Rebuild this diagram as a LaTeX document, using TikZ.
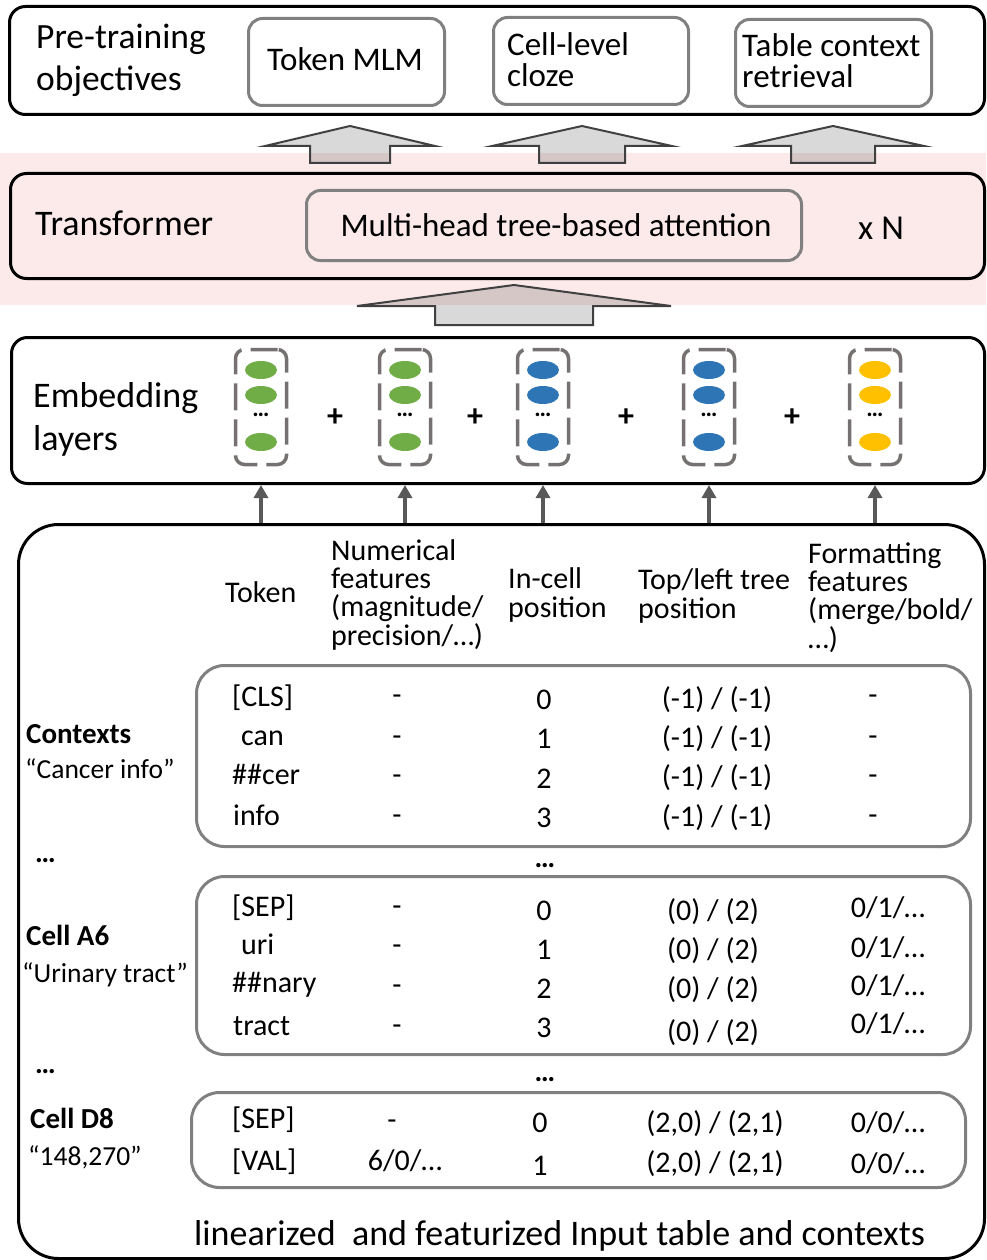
\documentclass[tikz,border=0pt]{standalone}
\usepackage{fontspec}
\setmainfont{Carlito}
\usetikzlibrary{arrows.meta,shapes.geometric}

\definecolor{bandpink}{RGB}{252,234,234}
\definecolor{framegray}{RGB}{128,128,128}
\definecolor{dashgray}{RGB}{118,113,113}
\definecolor{feedgray}{RGB}{89,89,89}
\definecolor{arrowedge}{RGB}{64,64,64}
\definecolor{embgreen}{RGB}{112,173,71}
\definecolor{embblue}{RGB}{46,117,182}
\definecolor{embgold}{RGB}{255,192,0}

\tikzset{
  frame/.style={draw=black, line width=3pt, rounded corners=16pt, inner sep=0pt, anchor=north west},
  objbox/.style={draw=framegray, line width=3pt, rounded corners=14pt, inner sep=0pt, anchor=north west},
  rowbox/.style={draw=framegray, line width=3pt, rounded corners=28pt, inner sep=0pt, anchor=north west},
  fatarrow/.style={draw=arrowedge, line width=2pt, fill=black, fill opacity=0.15, line join=miter},
  vecbox/.style={draw=dashgray, line width=3.5pt, rounded corners=9pt, dash pattern=on 27pt off 9pt,
    minimum width=51pt, minimum height=115pt, inner sep=0pt},
  emb/.style={ellipse, fill=#1, minimum width=32pt, minimum height=18pt, inner sep=0pt},
  feed/.style={draw=feedgray, line width=4pt, -{Triangle[length=13pt,width=14pt]}},
  biglabel/.style={font=\fontsize{36}{42}\selectfont, inner sep=0pt, align=left, anchor=base west},
  boxlabel/.style={font=\fontsize{33}{31}\selectfont, inner sep=0pt, align=left, anchor=base west},
  cell/.style={font=\fontsize{30}{28.3}\selectfont, inner sep=0pt, anchor=base},
  head/.style={cell, align=left, anchor=base west},
  rowlabel/.style={cell, font=\fontsize{29}{28.3}\selectfont\bfseries, anchor=base west},
  rowquote/.style={cell, font=\fontsize{27.5}{28}\selectfont, anchor=base west},
  gapdots/.style={cell, font=\fontsize{29}{28.3}\selectfont\bfseries},
}

\begin{document}
\begin{tikzpicture}[x=1pt, y=-1pt]
\useasboundingbox (0,0) rectangle (986,1260);

% pink band behind the transformer layer
\fill[bandpink] (0,153) rectangle (986,305);

% pre-training objectives (multi-line labels are placed by their last baseline)
\node[frame, minimum width=975pt, minimum height=108pt] (objframe) at (8,5) {};
\node[biglabel, font=\fontsize{35.5}{42.5}\selectfont] (objlabel) at (36,91) {Pre-training\\objectives};
\node[objbox, minimum width=196pt, minimum height=87pt] (mlm) at (247,17) {};
\node[boxlabel, anchor=base] (mlmtext) at (345,71) {Token MLM};
\node[objbox, minimum width=195pt, minimum height=87pt] (cloze) at (492,16) {};
\node[boxlabel] (clozetext) at (507,87) {Cell-level\\cloze};
\node[objbox, minimum width=196pt, minimum height=87pt] (retr) at (734,18) {};
\node[boxlabel] (retrtext) at (742,88) {Table context\\retrieval};

% transformer
\node[frame, minimum width=974pt, minimum height=105pt] (trframe) at (9,172) {};
\node[biglabel] (trlabel) at (35,235) {Transformer};
\node[objbox, minimum width=495pt, minimum height=70pt] (attn) at (305,189) {};
\node[boxlabel, anchor=base] (attntext) at (556,236) {Multi-head tree-based attention};
\node[boxlabel, font=\fontsize{35}{35}\selectfont] (times) at (858,239) {x N};

% block arrows between the layers
\foreach \cx/\h/\s in {350/85/40, 582/90/43, 833/91/42}
  \draw[fatarrow] ({\cx-\s},163) -- ({\cx-\s},146) -- ({\cx-\h},146) -- (\cx,126)
    -- ({\cx+\h},146) -- ({\cx+\s},146) -- ({\cx+\s},163) -- cycle;
\draw[fatarrow] (435,325) -- (435,306) -- (357,306) -- (514,285) -- (671,306)
  -- (593,306) -- (593,325) -- cycle;

% embedding layers
\node[frame, minimum width=973pt, minimum height=146pt] (embframe) at (10,336) {};
\node[biglabel, font=\fontsize{36}{43}\selectfont] (emblabel) at (33,450) {Embedding\\layers};
\foreach \i/\x/\c in {1/261/embgreen, 2/405/embgreen, 3/543/embblue, 4/709/embblue, 5/875/embgold}{
  \node[vecbox] (vec\i) at (\x,407) {};
  \node[emb=\c] (vec\i-a) at (\x,370) {};
  \node[emb=\c] (vec\i-b) at (\x,395) {};
  \node[font=\fontsize{24}{24}\selectfont\bfseries, inner sep=0pt] (vec\i-c) at (\x,415) {…};
  \node[emb=\c] (vec\i-d) at (\x,442) {};
}
\foreach \i/\x in {1/335, 2/475, 3/626, 4/792}
  \node[font=\fontsize{32}{32}\selectfont\bfseries, inner sep=0pt] (plus\i) at (\x,418) {+};

% linearized input
\node[frame, rounded corners=40pt, minimum width=966pt, minimum height=734pt] (inframe) at (17,523) {};
\foreach \i in {1,...,5}
  \draw[feed] (vec\i |- inframe.north) -- (vec\i |- embframe.south);

\node[head] (h-tok) at (225,602) {Token};
\node[head] (h-num) at (331,645) {Numerical\\features\\(magnitude/\\precision/…)};
\node[head] (h-pos) at (508,617) {In-cell\\position};
\node[head] (h-tree) at (638,618) {Top/left tree\\position};
\node[head] (h-fmt) at (808,648) {Formatting\\features\\(merge/bold/\\…)};

% context tokens
\node[rowbox, minimum width=774pt, minimum height=181pt] (ctxbox) at (195,664) {};
\node[rowlabel] (ctxlabel) at (26,743) {Contexts};
\node[rowquote] (ctxquote) at (25,778) {“Cancer info”};
\foreach \tx/\t/\y [count=\i] in {232/[CLS]/706, 241/can/745, 232/\#\#cer/784, 233/info/825}
  \node[cell, anchor=base west] (ctx-tok\i) at (\tx,\y) {\t};
\foreach \y [count=\i] in {704,745,784,824}{
  \node[cell] (ctx-num\i) at (397,\y) {-};
  \node[cell] (ctx-fmt\i) at (873,\y) {-};
}
\foreach \v/\y [count=\i] in {0/709, 1/748, 2/788, 3/827}
  \node[cell] (ctx-pos\i) at (544,\y) {\v};
\foreach \y [count=\i] in {708,747,786,826}
  \node[cell] (ctx-tree\i) at (717,\y) {(-1) / (-1)};

\node[gapdots, anchor=base west] (gapl1) at (35,862) {…};
\node[gapdots] (gapc1) at (545,867) {…};

% cell A6
\node[rowbox, minimum width=774pt, minimum height=178pt] (a6box) at (195,875) {};
\node[rowlabel] (a6label) at (26,945) {Cell A6};
\node[rowquote] (a6quote) at (22,982) {“Urinary tract”};
\foreach \tx/\t/\y [count=\i] in {232/[SEP]/916, 241/uri/954, 232/\#\#nary/992, 233/tract/1035}
  \node[cell, anchor=base west] (a6-tok\i) at (\tx,\y) {\t};
\foreach \y [count=\i] in {915,954,994,1034}
  \node[cell] (a6-num\i) at (397,\y) {-};
\foreach \v/\y [count=\i] in {0/920, 1/959, 2/998, 3/1037}
  \node[cell] (a6-pos\i) at (544,\y) {\v};
\foreach \y [count=\i] in {920,959,998,1041}
  \node[cell] (a6-tree\i) at (713,\y) {(0) / (2)};
\foreach \y [count=\i] in {917,957,995,1033}
  \node[cell] (a6-fmt\i) at (888,\y) {0/1/…};

\node[gapdots, anchor=base west] (gapl2) at (35,1073) {…};
\node[gapdots] (gapc2) at (545,1081) {…};

% cell D8
\node[rowbox, minimum width=774pt, minimum height=95pt] (d8box) at (190,1091) {};
\node[rowlabel] (d8label) at (30,1128) {Cell D8};
\node[rowquote] (d8quote) at (28,1165) {“148,270”};
\node[cell, anchor=base west] (d8-tok1) at (232,1128) {[SEP]};
\node[cell, anchor=base west] (d8-tok2) at (232,1170) {[VAL]};
\node[cell] (d8-num1) at (392,1129) {-};
\node[cell] (d8-num2) at (405,1170) {6/0/…};
\node[cell] (d8-pos1) at (540,1132) {0};
\node[cell] (d8-pos2) at (540,1175) {1};
\node[cell] (d8-tree1) at (715,1132) {(2,0) / (2,1)};
\node[cell] (d8-tree2) at (715,1172) {(2,0) / (2,1)};
\node[cell] (d8-fmt1) at (888,1132) {0/0/…};
\node[cell] (d8-fmt2) at (888,1173) {0/0/…};

\node[boxlabel, font=\fontsize{36}{36}\selectfont] (caption) at (194,1245) {linearized\ \ and featurized Input table and contexts};
\end{tikzpicture}
\end{document}
